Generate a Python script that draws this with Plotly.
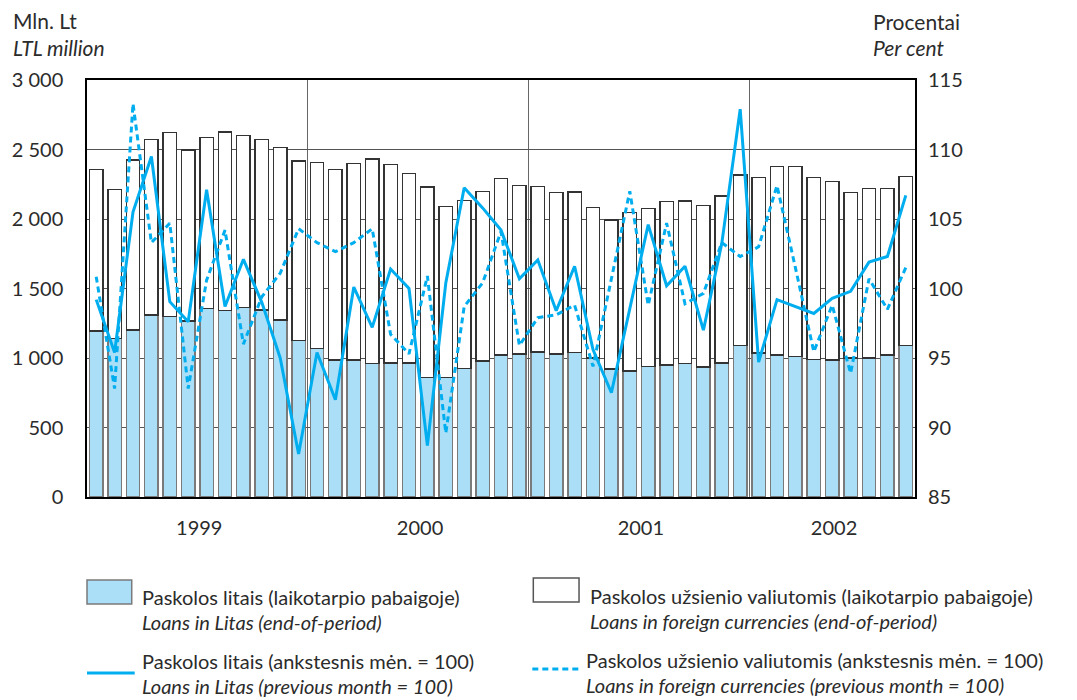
import plotly.graph_objects as go

# ---- data (monthly, Jan 1999 - Sep 2002) ----
months = list(range(45))
year_labels = ["1999", "2000", "2001", "2002"]
year_label_pos = [5.6, 17.6, 29.6, 40.1]
year_bounds = [11.5, 23.5, 35.5]

loans_litas = [1195, 1140, 1200, 1310, 1300, 1265, 1355, 1340, 1365, 1345, 1275, 1125,
               1070, 985, 985, 960, 965, 965, 860, 860, 925, 980, 1020, 1030,
               1045, 1030, 1040, 1000, 920, 905, 940, 950, 960, 935, 965, 1090,
               1035, 1020, 1010, 990, 985, 1000, 1000, 1020, 1090]
loans_foreign = [1162, 1074, 1224, 1263, 1321, 1231, 1233, 1286, 1234, 1228, 1241, 1294,
                 1335, 1372, 1416, 1472, 1428, 1361, 1370, 1231, 1209, 1217, 1270, 1212,
                 1190, 1162, 1154, 1084, 1073, 1143, 1134, 1177, 1169, 1161, 1200, 1226,
                 1262, 1356, 1366, 1310, 1286, 1192, 1218, 1200, 1214]
pct_litas = [99.2, 95.4, 105.5, 109.5, 99.05, 97.6, 107.1, 98.7, 102.1, 99.0, 95.0, 88.1,
             95.4, 92.0, 100.1, 97.2, 101.4, 100.0, 88.7, 100.4, 107.25, 105.8, 104.2, 100.7,
             102.05, 98.4, 101.6, 95.6, 92.5, 98.5, 104.6, 100.2, 101.6, 97.0, 103.25, 112.9,
             94.7, 99.2, 98.7, 98.2, 99.3, 99.8, 101.9, 102.3, 106.7]
pct_foreign = [100.85, 92.8, 113.3, 103.3, 104.7, 92.8, 100.6, 104.2, 96.0, 99.4, 101.1, 104.3,
               103.3, 102.65, 103.3, 104.3, 96.7, 95.3, 100.9, 89.6, 98.7, 100.4, 104.1, 95.9,
               97.9, 98.1, 98.8, 94.4, 100.7, 107.0, 98.8, 104.7, 98.9, 99.65, 103.3, 102.3,
               103.0, 107.4, 101.5, 95.45, 98.8, 93.9, 100.7, 98.5, 101.5]

left_ticks = [0, 500, 1000, 1500, 2000, 2500, 3000]
left_ticktext = ["0", "500", "1 000", "1 500", "2 000", "2 500", "3 000"]
right_ticks = [85, 90, 95, 100, 105, 110, 115]

FONT = "Lato"
TXT = "#2b2b2b"
LIGHT = "#abdff7"
CYAN = "#00aeef"

fig = go.Figure()
fig.add_trace(go.Bar(x=months, y=loans_litas, marker=dict(color=LIGHT, line=dict(color="#7a7a7a", width=1.5)),
                     showlegend=False, hoverinfo="y"))
fig.add_trace(go.Bar(x=months, y=loans_foreign, marker=dict(color="white", line=dict(color="#333333", width=1.5)),
                     showlegend=False, hoverinfo="y"))
fig.add_trace(go.Scatter(x=months, y=pct_litas, yaxis="y2", mode="lines",
                         line=dict(color=CYAN, width=3), showlegend=False))
fig.add_trace(go.Scatter(x=months, y=pct_foreign, yaxis="y2", mode="lines",
                         line=dict(color=CYAN, width=3, dash="6px,4px"), showlegend=False))

L, R, T, B = 82, 915, 80, 497
W, H = 1077, 700


def px(x):
    return (x - L) / (R - L)


def py(y):
    return (B - y) / (B - T)


shapes = [
    dict(type="rect", xref="paper", yref="paper", x0=px(82), x1=px(127), y0=py(604), y1=py(580),
         fillcolor=LIGHT, line=dict(color="#7a7a7a", width=1.5)),
    dict(type="rect", xref="paper", yref="paper", x0=px(531), x1=px(577), y0=py(602), y1=py(578),
         fillcolor="white", line=dict(color="#555555", width=1.5)),
    dict(type="line", xref="paper", yref="paper", x0=px(82), x1=px(130), y0=py(673), y1=py(673),
         line=dict(color=CYAN, width=3)),
    dict(type="line", xref="paper", yref="paper", x0=px(530), x1=px(580), y0=py(669), y1=py(669),
         line=dict(color=CYAN, width=3, dash="6px,4px")),
]

annots = []


def txt(x, y, s, size=20):
    annots.append(dict(xref="paper", yref="paper", x=px(x), y=py(y), text=s, showarrow=False,
                       xanchor="left", yanchor="middle", xshift=-2,
                       font=dict(family=FONT, size=size, color=TXT)))


txt(8, 20, "Mln. Lt", 21)
txt(8, 47, "<i>LTL million</i>", 21)
txt(873, 21, "Procentai", 21)
txt(873, 47, "<i>Per cent</i>", 21)
txt(137, 597, "Paskolos litais (laikotarpio pabaigoje)")
txt(137, 622, "<i>Loans in Litas (end-of-period)</i>")
txt(588, 596, "Paskolos užsienio valiutomis (laikotarpio pabaigoje)")
txt(588, 621, "<i>Loans in foreign currencies (end-of-period)</i>")
txt(137, 661, "Paskolos litais (ankstesnis mėn. = 100)")
txt(137, 686, "<i>Loans in Litas (previous month = 100)</i>")
txt(584, 660, "Paskolos užsienio valiutomis (ankstesnis mėn. = 100)")
txt(584, 685, "<i>Loans in foreign currencies (previous month = 100)</i>")

fig.update_layout(
    width=W, height=H,
    margin=dict(l=L, r=W - R, t=T, b=H - B, pad=0),
    paper_bgcolor="white", plot_bgcolor="white",
    barmode="stack", bargap=0.27,
    font=dict(family=FONT, size=20, color=TXT),
    shapes=shapes, annotations=annots,
    xaxis=dict(range=[-0.5, 44.5], tickmode="array", tickvals=year_label_pos, ticktext=year_labels,
               ticks="", showgrid=False, showline=True, linecolor="black", linewidth=1.5, mirror=True,
               zeroline=False, ticklabelstandoff=12, tickfont=dict(size=20, color=TXT),
               minor=dict(tickvals=year_bounds, showgrid=True, gridcolor="#666666", gridwidth=1.3, ticks="")),
    yaxis=dict(range=[0, 3000], tickmode="array", tickvals=left_ticks, ticktext=left_ticktext,
               ticks="", showgrid=True, gridcolor="#555555", gridwidth=1.3, zeroline=False,
               showline=True, linecolor="black", linewidth=1.5, mirror=True,
               ticklabelstandoff=18, tickfont=dict(size=20, color=TXT)),
    yaxis2=dict(range=[85, 115], tickmode="array", tickvals=right_ticks, overlaying="y", side="right",
                ticks="", showgrid=False, zeroline=False, showline=False,
                ticklabelstandoff=12, tickfont=dict(size=20, color=TXT)),
    hovermode=False,
)

fig.write_html("out.html", config={"displayModeBar": False},
               post_script="document.body.style.margin='0';document.body.style.overflow='hidden';")
